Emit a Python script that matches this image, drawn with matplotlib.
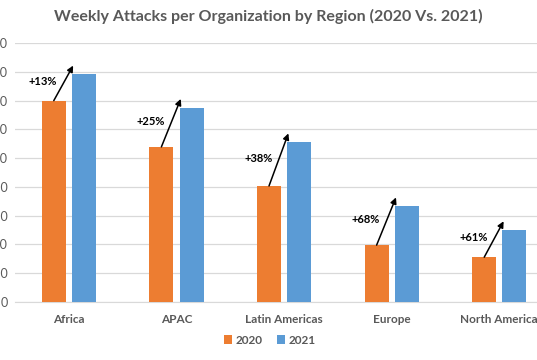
import numpy as np
import matplotlib.pyplot as plt

plt.rcParams['font.family'] = ['Lato', 'DejaVu Sans']

regions = ['Africa', 'APAC', 'Latin Americas', 'Europe', 'North America']
attacks_2020 = [1400, 1078, 806, 394, 310]
attacks_2021 = [1584, 1352, 1112, 666, 500]
growth = ['+13%', '+25%', '+38%', '+68%', '+61%']

orange = '#ED7D31'
blue = '#5B9BD5'
grey_text = '#595959'

fig = plt.figure(figsize=(5.37, 3.6), dpi=100)
ax = fig.add_axes([0.028, 0.162, 1.002, 0.718])

x = np.arange(len(regions))
w = 0.223
off = 0.14
ax.bar(x - off, attacks_2020, w, color=orange, label='2020', zorder=3)
ax.bar(x + off, attacks_2021, w, color=blue, label='2021', zorder=3)

# growth arrows and labels
for i in range(len(regions)):
    x0, y0 = x[i] - off, attacks_2020[i]
    x1, y1 = x[i] + 0.04, attacks_2021[i] + 60
    ax.annotate('', xy=(x1, y1), xytext=(x0, y0),
                arrowprops=dict(arrowstyle='-|>', color='black', lw=1.1,
                                mutation_scale=9, shrinkA=0, shrinkB=0),
                zorder=4)
    ax.text((x0 + x1) / 2 - 0.19, (y0 + y1) / 2 + 10, growth[i],
            ha='center', va='center', fontsize=8, fontweight='bold', color='black')

ax.set_xlim(-0.5, len(regions) - 0.5)
ax.set_ylim(0, 1800)
ax.set_yticks(np.arange(0, 1801, 200))
ax.yaxis.grid(True, color='#D9D9D9', lw=0.9, zorder=0)
ax.set_axisbelow(True)
for s in ax.spines.values():
    s.set_visible(False)
ax.spines['bottom'].set_visible(True)
ax.spines['bottom'].set_color('#D9D9D9')
ax.tick_params(axis='both', length=0, colors=grey_text)
ax.tick_params(axis='y', pad=5, labelsize=9)
ax.tick_params(axis='x', pad=9, labelsize=8.5)
ax.set_xticks(x)
ax.set_xticklabels(regions, fontweight='bold')

fig.suptitle('Weekly Attacks per Organization by Region (2020 Vs. 2021)',
             x=0.5, y=0.975, fontsize=11.5, fontweight='bold', color=grey_text)

fig.legend(loc='center', bbox_to_anchor=(0.503, 0.055), ncol=2, frameon=False,
           fontsize=8.5, handlelength=0.7, handleheight=0.7, handletextpad=0.3,
           columnspacing=1.2, labelcolor=grey_text,
           prop={'weight': 'bold', 'size': 8.5})

fig.savefig('out.png', dpi=100)
